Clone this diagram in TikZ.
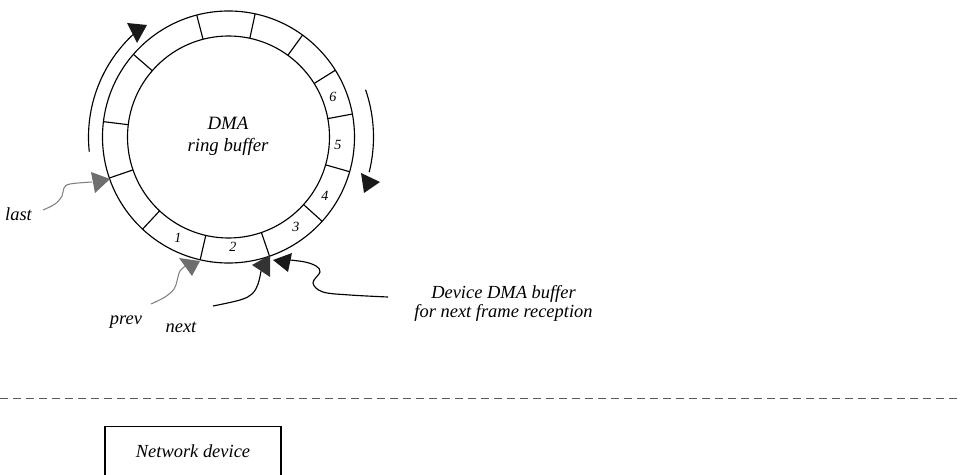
\documentclass[tikz,border=0pt]{standalone}
\usepackage{fontspec}
\setmainfont{Liberation Serif}
\begin{document}
\begin{tikzpicture}[x=0.02cm,y=0.02cm,line width=0.65pt,
  lbl/.style={font=\fontsize{10.5}{11.3}\selectfont\itshape,inner sep=0pt,align=center},
  num/.style={font=\fontsize{8}{9}\selectfont\itshape,inner sep=0pt},
  ptrgray/.style={draw=black!50,line width=0.6pt},
  ptrblack/.style={draw=black,line width=0.65pt}]
\useasboundingbox (0,0) rectangle (960,474);
\coordinate (c) at (228.5,337);
% ring
\draw (c) circle[radius=126];
\draw (c) circle[radius=101];
\foreach \a in {104.6,77.8,54,32,10.5,-16,-42,-71,-103,-133,-161,173,139}
  \draw ([shift={(\a:101)}]c) -- ([shift={(\a:126)}]c);
% segment numbers
\node[num] (n1) at (178,236) {1};
\node[num] (n2) at (233,227) {2};
\node[num] (n3) at (296,247) {3};
\node[num] (n4) at (325,278) {4};
\node[num] (n5) at (338,329) {5};
\node[num] (n6) at (333,377) {6};
% centre text
\node[lbl,font=\fontsize{10.7}{12.5}\selectfont\itshape] (dma) at (228,338) {DMA\\ring buffer};
% direction arcs
\draw ([shift={(186:140)}]c) arc[start angle=186,end angle=132,radius=140];
\fill[black!90] (127,451) -- (147,449) -- (137,431) -- cycle;
\draw ([shift={(19:145)}]c) arc[start angle=19,end angle=-14,radius=145];
\fill[black!90] (361,301) -- (380,292) -- (364,281) -- cycle;
% labels
\node[lbl] (last) at (18.5,260) {last};
\node[lbl] (prev) at (126,152) {prev};
\node[lbl] (next) at (181,147) {next};
\node[lbl] (dev) at (503.5,170.5) {Device DMA buffer\\for next frame reception};
% pointers
\coordinate (lastS) at (43,264);
\draw[ptrgray] plot[smooth,tension=0.6] coordinates {(lastS) (55,270) (62,278) (64,286) (70,290) (92,292)};
\fill[black!57] (91,302) -- (110,295) -- (95,281) -- cycle;
\coordinate (prevS) at (151,170);
\draw[ptrgray] plot[smooth,tension=0.6] coordinates {(prevS) (165,177) (174,185) (177,193) (180,203) (187,209)};
\fill[black!57] (179,216) -- (200,213) -- (192,198) -- cycle;
\coordinate (nextS) at (213,168);
\draw[ptrblack] plot[smooth,tension=0.6] coordinates {(nextS) (240,174) (252,180) (258,190) (261,203)};
\fill[black!80] (252,209) -- (270,219) -- (270,197) -- cycle;
\coordinate (devS) at (388,177);
\draw[ptrblack] plot[smooth,tension=0.6] coordinates {(devS) (350,179) (323,182) (313,191) (320,202) (316,208) (305,212) (290,214)};
\fill[black!90] (273,214) -- (292,221) -- (288,202) -- cycle;
% separator
\coordinate (sepL) at (0,76);
\coordinate (sepR) at (960,76);
\draw[black!65,line width=0.55pt,dash pattern=on 4.5pt off 2.9pt] (sepL) -- (sepR);
% network device box
\node[draw,line width=0.6pt,minimum width=3.52cm,minimum height=0.98cm,inner sep=0pt,
  font=\fontsize{10.5}{11.3}\selectfont\itshape] (netdev) at (193,23) {Network device};
\end{tikzpicture}
\end{document}
